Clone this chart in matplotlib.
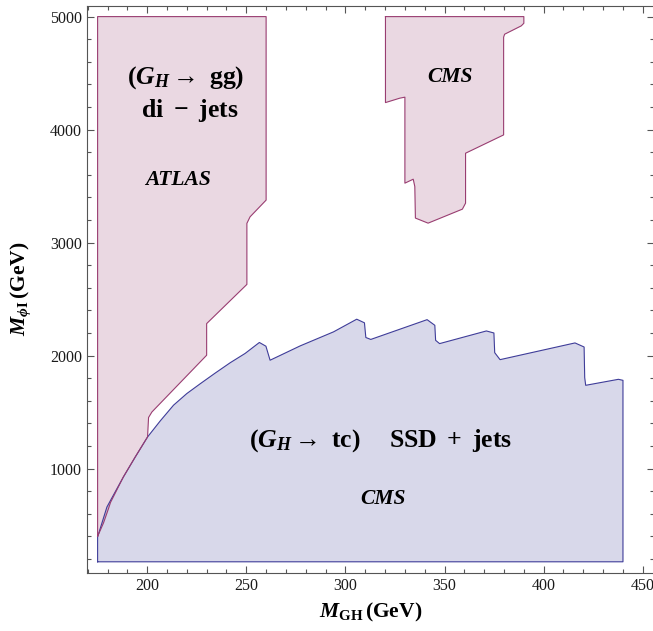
import matplotlib
matplotlib.use("Agg")
import matplotlib.pyplot as plt
from matplotlib.ticker import MultipleLocator

plt.rcParams['font.family'] = ['Liberation Serif', 'DejaVu Serif']
plt.rcParams['mathtext.fontset'] = 'custom'
plt.rcParams['mathtext.rm'] = 'Liberation Serif:bold'
plt.rcParams['mathtext.it'] = 'Liberation Serif:italic:bold'
plt.rcParams['mathtext.bf'] = 'Liberation Serif:bold'

# ATLAS di-jet excluded region (G_H -> gg)
atlas_x = [175, 175, 260, 260, 251.9, 250.3, 250.3, 248.2, 230, 230, 202.4, 200.7,
           200.2, 194, 188, 181.5, 180.5, 178, 175]
atlas_y = [400, 5000, 5000, 3376, 3228, 3170, 2630, 2594, 2283, 2003, 1501, 1452,
           1280, 1103, 926, 700, 646, 520, 400]

# CMS di-jet excluded region
cmsjj_x = [320.2, 390, 390, 388.7, 380.3, 379.8, 379.8, 360.6, 360.6, 359, 341.7,
           335.3, 335, 334.2, 330, 330, 327.4, 320.2, 320.2]
cmsjj_y = [5000, 5000, 4941, 4918, 4844, 4818, 3953, 3791, 3349, 3296, 3172,
           3217, 3496, 3561, 3526, 4287, 4278, 4239, 5000]

# CMS same-sign dilepton + jets excluded region (G_H -> tc)
ssd_x = [175, 175, 177.3, 179.7, 188, 194, 200.2, 206.6, 213.3, 220, 226.7, 234.3,
         241.9, 249.4, 256.6, 259.9, 262, 277.2, 285.6, 294, 305.7, 309.6, 310.3,
         312.8, 341.2, 345.1, 345.5, 347.5, 371.1, 374.9, 375.3, 378, 415.8, 420.4,
         420.7, 421.2, 437.7, 440, 440, 175]
ssd_y = [175, 395, 525, 660, 926, 1103, 1280, 1422, 1561, 1664, 1750, 1845,
         1937, 2019, 2116, 2083, 1959, 2086, 2148, 2210, 2322, 2290, 2160,
         2143, 2318, 2268, 2135, 2106, 2218, 2200, 2026, 1964, 2112, 2076,
         1805, 1737, 1790, 1781, 175, 175]

blue = (0.2472, 0.24, 0.6)
pink = (0.6, 0.24, 0.4429)

fig = plt.figure(figsize=(6.53, 6.31), dpi=100)
ax = fig.add_axes([86.7 / 653, (631 - 572.7) / 631, 567 / 653, 567 / 631])

ax.fill(ssd_x, ssd_y, facecolor=blue, alpha=0.2, edgecolor='none')
ax.plot(ssd_x, ssd_y, color=blue, lw=0.8)
ax.fill(atlas_x, atlas_y, facecolor=pink, alpha=0.2, edgecolor='none')
ax.plot(atlas_x, atlas_y, color=pink, lw=0.8)
ax.fill(cmsjj_x, cmsjj_y, facecolor=pink, alpha=0.2, edgecolor='none')
ax.plot(cmsjj_x, cmsjj_y, color=pink, lw=0.8)

ax.set_xlim(169.5, 455.5)
ax.set_ylim(78.5, 5096.5)
ax.xaxis.set_major_locator(MultipleLocator(50))
ax.xaxis.set_minor_locator(MultipleLocator(10))
ax.yaxis.set_major_locator(MultipleLocator(1000))
ax.yaxis.set_minor_locator(MultipleLocator(200))
ax.tick_params(which='both', direction='in', top=True, right=True, color='#555555',
               labelsize=11.5, labelcolor='#1a1a1a', width=0.8)
ax.tick_params(which='major', length=5)
ax.tick_params(which='minor', length=2.6)
for s in ax.spines.values():
    s.set_color('#555555')
    s.set_linewidth(0.8)

ax.set_xlabel(r'$M_{\mathrm{GH}}\,\mathrm{(GeV)}$', fontsize=15.5, labelpad=5)
ax.set_ylabel(r'$M_{ϕ\mathrm{I}}\,\mathrm{(GeV)}$', fontsize=15.5, labelpad=12)

big = 18.5
small = 15.5
ax.text(219.2, 4457, r'$(G_H\rightarrow\ \mathrm{gg})$', fontsize=big, ha='center', va='center')
ax.text(221.7, 4173, r'$\mathrm{di}\ -\ \mathrm{jets}$', fontsize=big, ha='center', va='center')
ax.text(215.6, 3553, 'ATLAS', fontsize=small, fontweight='bold', fontstyle='italic',
        ha='center', va='center')
ax.text(352.8, 4464, 'CMS', fontsize=small, fontweight='bold', fontstyle='italic',
        ha='center', va='center')
ax.text(279.4, 1251, r'$(G_H\rightarrow\ \mathrm{tc})$', fontsize=big, ha='center', va='center')
ax.text(353.3, 1251, r'$\mathrm{SSD}\ +\ \mathrm{jets}$', fontsize=big, ha='center', va='center')
ax.text(318.8, 728, 'CMS', fontsize=small, fontweight='bold', fontstyle='italic',
        ha='center', va='center')

fig.savefig('out.png', dpi=100)
